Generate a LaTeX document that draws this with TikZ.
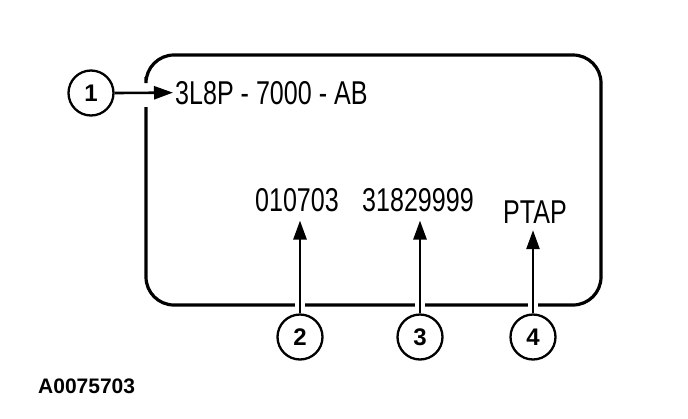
\documentclass[tikz,border=0pt]{standalone}
\usepackage{fontspec}
\setmainfont{Liberation Sans}
\newfontfamily\narrowfont[FakeStretch=0.76]{Liberation Sans}
\usetikzlibrary{arrows.meta}
\begin{document}
\begin{tikzpicture}[x=1pt,y=-1pt,
  callout/.style={draw,circle,line width=2.3pt,minimum size=45pt,inner sep=0pt,font=\fontsize{24}{27}\selectfont\bfseries},
  codetext/.style={inner sep=0pt,font=\narrowfont\fontsize{33}{36}\selectfont},
  arr/.style={line width=2.6pt,-{Triangle[length=19pt,width=13pt]}},
  gapline/.style={white}]
\useasboundingbox (0,0) rectangle (688,418);
% label box with gap on left edge
\draw[line width=3.2pt,rounded corners=28pt] (146,107) -- (146,305) -- (601,305) -- (601,55) -- (146,55) -- (146,77);
% texts
\node[codetext,anchor=base west] (t1) at (175,104) {3L8P - 7000 - AB};
\node[codetext,anchor=base] (t2) at (297,211) {010703};
\node[codetext,anchor=base] (t3) at (418,211) {31829999};
\node[codetext,anchor=base] (t4) at (535,223) {PTAP};
% callouts
\node[callout] (c1) at (91,93) {1};
\node[callout] (c2) at (300,337) {2};
\node[callout] (c3) at (420,337) {3};
\node[callout] (c4) at (533,337) {4};
% gaps in bottom edge
\draw[gapline,line width=10pt] (c2.north) ++(0,-6) -- ++(0,-16);
\draw[gapline,line width=10pt] (c3.north) ++(0,-6) -- ++(0,-16);
\draw[gapline,line width=10pt] (c4.north) ++(0,-6) -- ++(0,-16);
% connectors
\draw[arr,shorten >=2pt] (c1.east) -- (t1.west);
\draw[arr,shorten >=9pt] (c2.north) -- (t2.south -| c2.north);
\draw[arr,shorten >=9pt] (c3.north) -- (t3.south -| c3.north);
\draw[arr,shorten >=7pt] (c4.north) -- (t4.south -| c4.north);
% figure code
\node[inner sep=0pt,anchor=base west,font=\fontsize{21}{24}\selectfont\bfseries] (code) at (38,393) {A0075703};
\end{tikzpicture}
\end{document}
